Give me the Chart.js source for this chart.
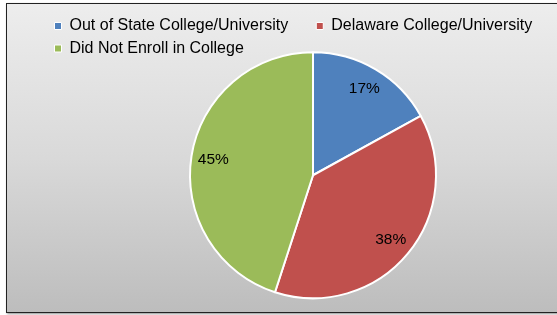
<!DOCTYPE html>
<html>
<head>
<meta charset="utf-8">
<script src="https://cdn.jsdelivr.net/npm/chart.js@4.4.1/dist/chart.umd.min.js"></script>
<style>
  html, body { margin: 0; padding: 0; background: #fff; overflow: hidden; width: 557px; height: 315px; }
  .frame {
    position: absolute; left: 6px; top: 3px; width: 700px; height: 308px;
    border: 1px solid #222;
    box-shadow: 1px 1px 2px rgba(0,0,0,0.45);
    background: linear-gradient(to bottom, #ededed 0%, #d9d9d9 50%, #bdbdbd 100%);
  }
  .wrap { position: absolute; left: 7px; top: 4px; width: 613px; height: 307px; }
</style>
</head>
<body>
<div class="frame"></div>
<div class="wrap"><canvas id="pieChart"></canvas></div>
<script>
// chart data
const categories = ["Out of State College/University", "Delaware College/University", "Did Not Enroll in College"];
const percentValues = [17, 38, 45];
const sliceColors = ["#4f81bd", "#c0504d", "#9bbb59"];

const FONT = "'Liberation Sans', Arial, Helvetica, sans-serif";

// percent text inside each slice
const sliceLabels = {
    id: 'sliceLabels',
    afterDatasetsDraw(chart) {
        const ctx = chart.ctx;
        const meta = chart.getDatasetMeta(0);
        ctx.save();
        ctx.font = "15.5px " + FONT;
        ctx.fillStyle = "#000";
        ctx.textAlign = "center";
        ctx.textBaseline = "middle";
        meta.data.forEach((arc, i) => {
            const p = arc.getProps(['x', 'y', 'startAngle', 'endAngle', 'outerRadius'], true);
            const mid = (p.startAngle + p.endAngle) / 2;
            const r = p.outerRadius * 0.82;
            ctx.fillText(percentValues[i] + "%", p.x + Math.cos(mid) * r, p.y + Math.sin(mid) * r);
        });
        ctx.restore();
    }
};

const myChartRef = document.getElementById("pieChart").getContext("2d");
const myChart = new Chart(myChartRef, {
    type: "pie",
    data: {
        labels: categories,
        datasets: [{
            data: percentValues,
            backgroundColor: sliceColors,
            borderColor: "#ffffff",
            borderWidth: 2,
            radius: 123
        }]
    },
    options: {
        animation: false,
        responsive: true,
        maintainAspectRatio: false,
        devicePixelRatio: 1,
        layout: { padding: { left: 41, right: 42, top: 7.5, bottom: 27 } },
        plugins: {
            tooltip: { enabled: false },
            legend: {
                position: "top",
                align: "start",
                onClick: null,
                labels: {
                    boxWidth: 7,
                    boxHeight: 7,
                    padding: 6.5,
                    color: "#000",
                    font: { family: FONT, size: 16 },
                    generateLabels(chart) {
                        const items = categories.map((c, i) => ({
                            text: c,
                            fillStyle: sliceColors[i],
                            strokeStyle: "#ffffff",
                            lineWidth: 1,
                            hidden: false,
                            index: i
                        }));
                        // empty gap item between the two first entries
                        items.splice(1, 0, {
                            text: "",
                            fillStyle: "rgba(0,0,0,0)",
                            strokeStyle: "rgba(0,0,0,0)",
                            lineWidth: 0,
                            hidden: false,
                            index: -1
                        });
                        return items;
                    }
                }
            }
        }
    },
    plugins: [sliceLabels]
});
</script>
</body>
</html>
